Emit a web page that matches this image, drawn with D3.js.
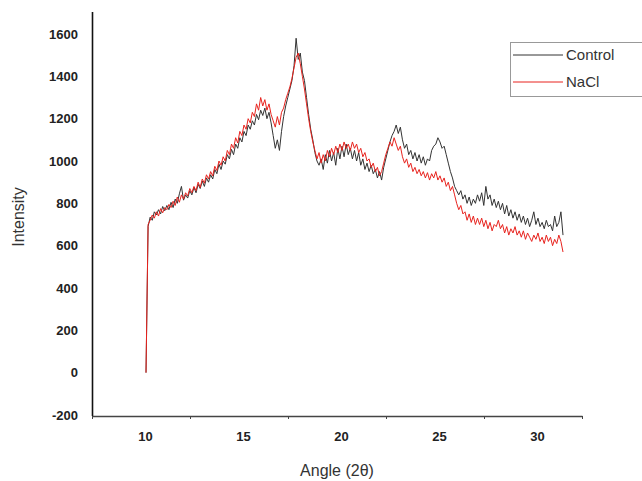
<!DOCTYPE html>
<html>
<head>
<meta charset="utf-8">
<script src="https://cdn.jsdelivr.net/npm/d3@7"></script>
<style>
  body { margin: 0; background: #fff; }
  svg { font-family: Arial, "Liberation Sans", sans-serif; }
</style>
</head>
<body>
<svg></svg>
<script>
// angle steps, 10.0 .. 30.0 by 0.1
const ANGLES = d3.range(0, 201).map(i => 10 + i / 10);

const CONTROL = [
  0, 690, 735, 720, 760, 745, 770, 750, 785, 765,
  790, 770, 805, 780, 820, 800, 845, 880, 815, 840,
  825, 860, 840, 875, 850, 890, 870, 905, 880, 920,
  900, 935, 915, 960, 940, 985, 960, 1000, 985, 1030,
  1010, 1055, 1030, 1080, 1060, 1110, 1090, 1140, 1120, 1170,
  1150, 1190, 1170, 1220, 1195, 1240, 1215, 1250, 1200, 1230,
  1180, 1120, 1060, 1100, 1050, 1140, 1210, 1260, 1300, 1340,
  1380, 1450, 1580, 1480, 1510, 1420, 1380, 1300, 1220, 1150,
  1100, 1040, 1000, 980, 1010, 960, 1030, 990, 1050, 1000,
  1040, 980, 1060, 1010, 1070, 1020, 1080, 1030, 1060, 1010,
  1050, 1000, 1040, 980, 1010, 960, 990, 950, 980, 940,
  960, 920, 950, 910, 970, 1010, 1050, 1090, 1120, 1140,
  1170, 1130, 1160, 1100, 1060, 1080, 1030, 1050, 1010, 1040,
  1000, 1030, 990, 1020, 980, 1010, 1000, 1050, 1070, 1080,
  1110, 1090, 1060, 1070, 1030, 990, 950, 920, 880, 860,
  840, 860, 820, 840, 800, 830, 790, 820, 800, 840,
  810, 850, 790, 880, 820, 840, 790, 820, 780, 810,
  770, 800, 750, 790, 740, 770, 730, 760, 720, 750,
  710, 740, 700, 730, 690, 720, 760, 700, 730, 690,
  710, 680, 720, 690, 700, 670, 740, 690, 710, 760,
  650
];

const NACL = [
  0, 700, 720, 745, 730, 760, 740, 775, 755, 780,
  770, 795, 780, 810, 790, 830, 805, 840, 820, 850,
  835, 870, 850, 880, 860, 900, 875, 915, 895, 935,
  915, 950, 930, 975, 955, 1000, 980, 1020, 1000, 1050,
  1030, 1080, 1060, 1110, 1085, 1140, 1120, 1170, 1150, 1200,
  1180, 1230, 1210, 1270, 1240, 1300, 1260, 1290, 1240, 1270,
  1220, 1190, 1160, 1210, 1170, 1230, 1250, 1290, 1320, 1350,
  1390, 1440, 1490, 1510, 1460, 1400, 1340, 1270, 1200, 1140,
  1090, 1050, 1010, 1040, 990, 1030, 1000, 1050, 1020, 1060,
  1030, 1070, 1040, 1080, 1050, 1090, 1060, 1080, 1050, 1090,
  1060, 1080, 1040, 1060, 1020, 1040, 1000, 1010, 970, 990,
  950, 970, 930, 950, 990, 1030, 1060, 1090, 1070, 1110,
  1080, 1050, 1070, 1020, 990, 1010, 970, 990, 950, 970,
  940, 960, 930, 950, 920, 945, 910, 940, 920, 950,
  910, 930, 900, 920, 880, 900, 860, 880, 840, 800,
  770, 790, 750, 760, 720, 750, 710, 740, 700, 730,
  700, 730, 690, 720, 680, 710, 670, 700, 690, 720,
  680, 700, 660, 690, 650, 680, 660, 690, 650, 670,
  640, 670, 630, 660, 640, 620, 650, 630, 660, 620,
  640, 610, 650, 620, 640, 600, 630, 610, 650, 620,
  570
];

const X_LABELS = [10, 15, 20, 25, 30];
const X_TICKS = [7.3, 12.3, 17.3, 22.3, 27.3, 32.3];
const Y_TICKS = [-200, 0, 200, 400, 600, 800, 1000, 1200, 1400, 1600];
const SERIES = ["Control", "NaCl"];
const COLORS = ["#333333", "#e8231e"];

const WIDTH = 642, HEIGHT = 481;
const LEFT = 92, RIGHT = 582, TOP = 12, BOTTOM = 416;

const svg = d3.select('svg')
  .attr('width', WIDTH)
  .attr('height', HEIGHT);

// axis labels are drawn on their own scale, the data sits on another one (as in the original figure)
const xAxisScale = d3.scaleLinear().domain([7.3, 32.3]).range([LEFT, RIGHT]);
const xScale = d3.scaleLinear().domain([10, 30]).range([146, 563]);
const yScale = d3.scaleLinear().domain([-200, 1704]).range([415, TOP]);

//LINES
const line = d3.line()
  .x((d, i) => xScale(ANGLES[i]))
  .y(d => yScale(d));

[CONTROL, NACL].forEach((vals, k) => {
  svg.append('path')
    .datum(vals)
    .attr('d', line)
    .attr('fill', 'none')
    .attr('stroke', COLORS[k])
    .attr('stroke-width', 1)
    .attr('stroke-linejoin', 'round');
});

//Y AXIS
const yAxis = svg.append('g')
  .attr('transform', `translate(${LEFT},0)`)
  .call(d3.axisLeft(yScale).tickValues(Y_TICKS).tickSize(0).tickPadding(14).tickFormat(d => String(d)));
yAxis.select('.domain').attr('d', `M0.5,${TOP}V${BOTTOM}`).attr('stroke', '#111').attr('stroke-width', 1.6);
yAxis.selectAll('text')
  .attr('font-size', 13).attr('font-weight', 'bold').attr('fill', '#222')
  .attr('font-family', 'Arial, "Liberation Sans", sans-serif');

//X AXIS - tick marks
const xTicks = svg.append('g')
  .attr('transform', `translate(0,${BOTTOM})`)
  .call(d3.axisBottom(xAxisScale).tickValues(X_TICKS).tickSize(3).tickSizeOuter(0).tickFormat(''));
xTicks.select('.domain').attr('stroke', '#444').attr('stroke-width', 1.3);
xTicks.selectAll('line').attr('stroke', '#444');

//X AXIS - labels
const xLabels = svg.append('g')
  .attr('transform', `translate(0,${BOTTOM})`)
  .call(d3.axisBottom(xAxisScale).tickValues(X_LABELS).tickSize(0).tickPadding(16).tickFormat(d => String(d)));
xLabels.select('.domain').remove();
xLabels.selectAll('text')
  .attr('font-size', 13).attr('font-weight', 'bold').attr('fill', '#222')
  .attr('font-family', 'Arial, "Liberation Sans", sans-serif');

//TITLES
svg.append('text')
  .attr('x', 337).attr('y', 476)
  .attr('text-anchor', 'middle')
  .attr('font-size', 16).attr('fill', '#333')
  .text('Angle (2θ)');

svg.append('text')
  .attr('transform', 'translate(24,217) rotate(-90)')
  .attr('text-anchor', 'middle')
  .attr('font-size', 16).attr('fill', '#333')
  .text('Intensity');

//LEGEND
const legend = svg.append('g');
legend.append('rect')
  .attr('x', 510.5).attr('y', 42.5)
  .attr('width', 140).attr('height', 54)
  .attr('fill', '#fff').attr('stroke', '#999').attr('stroke-width', 1);

SERIES.forEach((name, i) => {
  const y = 55 + i * 27;
  legend.append('line')
    .attr('x1', 513).attr('x2', 563)
    .attr('y1', y).attr('y2', y)
    .attr('stroke', COLORS[i]).attr('stroke-width', 1);
  legend.append('text')
    .attr('x', 566).attr('y', y + 5)
    .attr('font-size', 15).attr('fill', '#333')
    .text(name);
});
</script>
</body>
</html>
